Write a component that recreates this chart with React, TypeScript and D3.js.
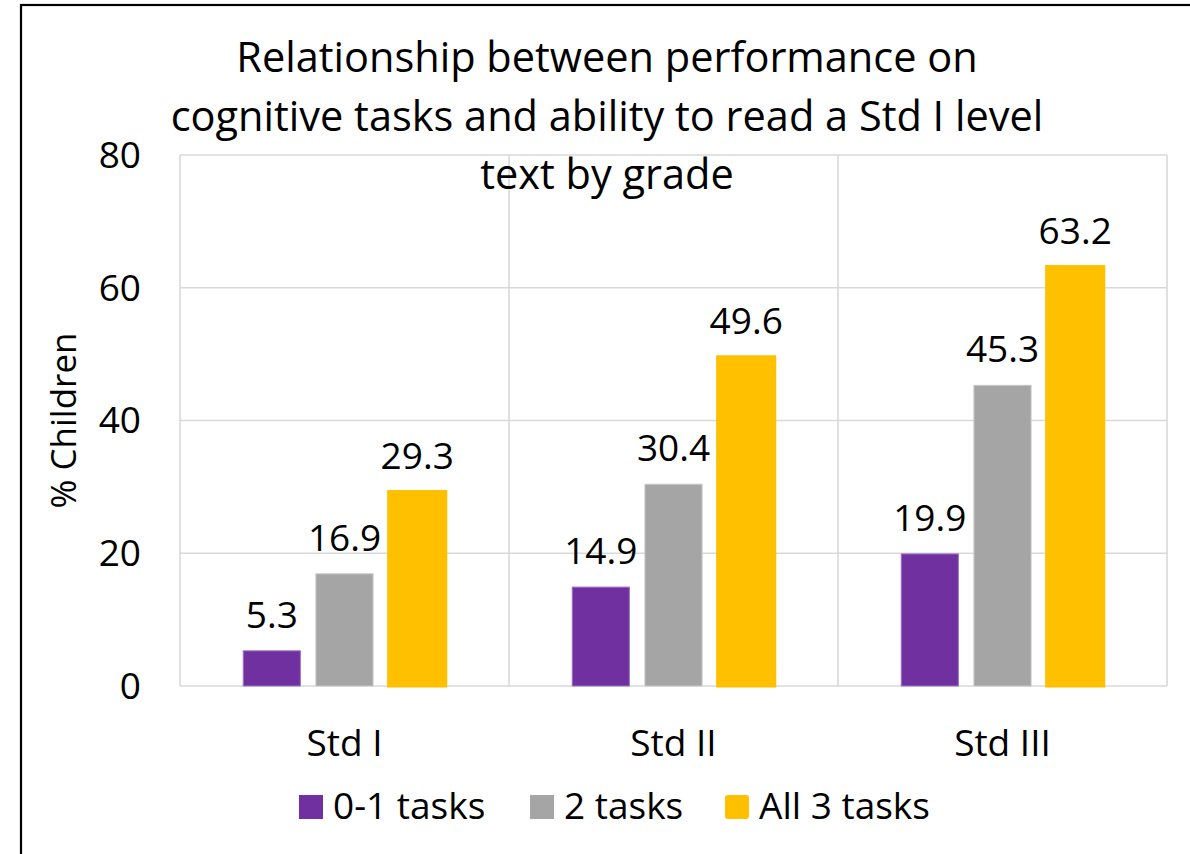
import React from "react";
import * as d3 from "d3";

const categories = ["Std I", "Std II", "Std III"];
const seriesNames = ["0-1 tasks", "2 tasks", "All 3 tasks"];
const tasks01 = [5.3, 14.9, 19.9];
const tasks2 = [16.9, 30.4, 45.3];
const tasks3 = [29.3, 49.6, 63.2];
const yTicks = [0, 20, 40, 60, 80];
const titleLines = [
  "Relationship between performance on",
  "cognitive tasks and ability to read a Std I level",
  "text by grade",
];
const yLabel = "% Children";

const fills = ["#7030A0", "#A5A5A5", "#FFC000"];
const strokes = ["#9D74C4", "#C8C8C8", "#FFC000"];
const strokeW = [1, 1, 3];

const W = 1190;
const H = 854;
const FONT = "'Open Sans', 'Noto Sans', sans-serif";

export default function App() {
  const plot = { left: 180, right: 1167, top: 155, bottom: 686 };
  const x0 = d3
    .scaleBand<string>()
    .domain(categories)
    .range([plot.left, plot.right])
    .paddingInner(0)
    .paddingOuter(0);
  const x1 = d3
    .scaleBand<string>()
    .domain(seriesNames)
    .range([0, x0.bandwidth()])
    .paddingInner(0.214)
    .paddingOuter(0.87);
  const y = d3.scaleLinear().domain([0, 80]).range([plot.bottom, plot.top]);
  const series = [tasks01, tasks2, tasks3];
  const gridColor = "#D9D9D9";

  const legendItems = [
    { sq: 299, tx: 333 },
    { sq: 530, tx: 564 },
    { sq: 725, tx: 759 },
  ];

  return (
    <svg
      width={W}
      height={H}
      style={{ position: "absolute", left: 0, top: 0, background: "#fff" }}
      fontFamily={FONT}
    >
      <rect x={0} y={0} width={W} height={H} fill="#fff" />
      <rect x={21} y={5} width={1300} height={1000} fill="none" stroke="#000" strokeWidth={2.2} />

      {/* horizontal gridlines */}
      {yTicks.map((t) => (
        <line
          key={"h" + t}
          x1={plot.left}
          x2={plot.right}
          y1={y(t)}
          y2={y(t)}
          stroke={gridColor}
          strokeWidth={1.6}
        />
      ))}
      {/* vertical gridlines at category boundaries */}
      {[...categories.map((c) => x0(c) as number), plot.right].map((xv, i) => (
        <line
          key={"v" + i}
          x1={xv}
          x2={xv}
          y1={plot.top}
          y2={plot.bottom}
          stroke={gridColor}
          strokeWidth={1.6}
        />
      ))}

      {/* title */}
      {titleLines.map((t, i) => (
        <text
          key={"t" + i}
          x={607}
          y={72 + i * 58.5}
          textAnchor="middle"
          fontSize={41.5}
          fill="#000"
        >
          {t}
        </text>
      ))}

      {/* y tick labels */}
      {yTicks.map((t) => (
        <text
          key={"yt" + t}
          x={141}
          y={y(t)}
          dy="0.35em"
          textAnchor="end"
          fontSize={37}
          fill="#000"
        >
          {t}
        </text>
      ))}

      {/* y axis label */}
      <text
        transform={`translate(76, ${(plot.top + plot.bottom) / 2}) rotate(-90)`}
        textAnchor="middle"
        fontSize={35}
        fill="#000"
      >
        {yLabel}
      </text>

      {/* bars */}
      {categories.map((c, ci) => (
        <g key={c} transform={`translate(${x0(c)},0)`}>
          {series.map((s, si) => {
            const bx = x1(seriesNames[si]) as number;
            const bw = x1.bandwidth();
            return (
              <g key={si}>
                <rect
                  x={bx}
                  y={y(s[ci])}
                  width={bw}
                  height={y(0) - y(s[ci])}
                  fill={fills[si]}
                  stroke={strokes[si]}
                  strokeWidth={strokeW[si]}
                />
                <text
                  x={bx + bw / 2}
                  y={y(s[ci]) - 23}
                  textAnchor="middle"
                  fontSize={37}
                  fill="#000"
                >
                  {s[ci].toFixed(1)}
                </text>
              </g>
            );
          })}
          <text
            x={x0.bandwidth() / 2}
            y={756}
            textAnchor="middle"
            fontSize={37}
            fill="#000"
          >
            {c}
          </text>
        </g>
      ))}

      {/* legend */}
      {seriesNames.map((n, i) => (
        <g key={"lg" + i}>
          <rect
            x={legendItems[i].sq}
            y={795}
            width={i === 2 ? 22 : 24}
            height={i === 2 ? 22 : 24}
            transform={i === 2 ? "translate(1,1)" : undefined}
            fill={fills[i]}
            stroke={i === 2 ? fills[i] : "none"}
            strokeWidth={i === 2 ? 2 : 0}
            rx={i === 2 ? 2 : 0}
          />
          <text x={legendItems[i].tx} y={819} fontSize={37} fill="#000">
            {n}
          </text>
        </g>
      ))}
    </svg>
  );
}
